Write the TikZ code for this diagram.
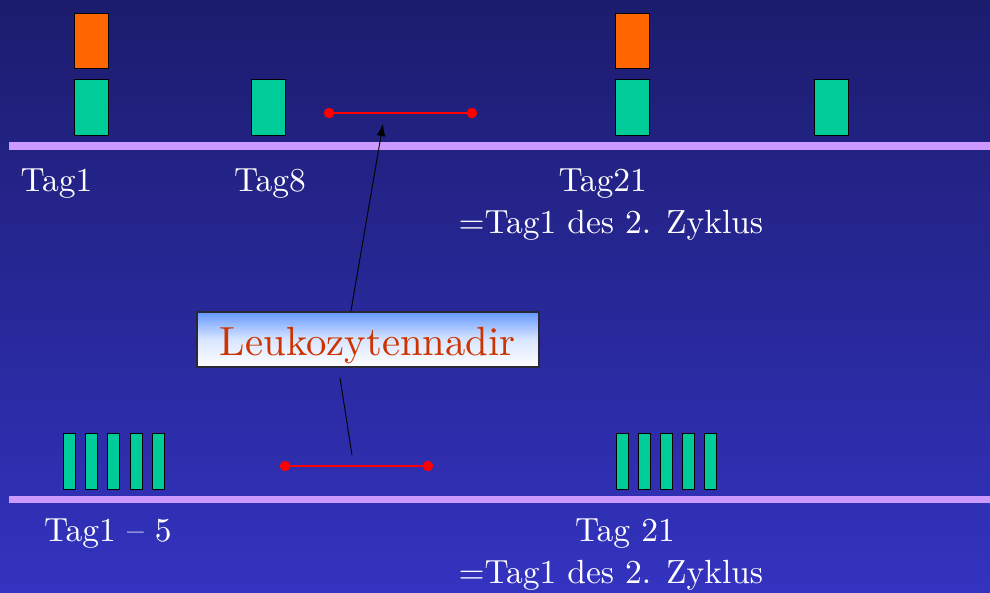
\documentclass[tikz,border=0pt]{standalone}
\usepackage{fontspec}
\setmainfont{lmroman10-regular.otf}
\usetikzlibrary{arrows.meta}

\definecolor{bgtop}{RGB}{28,28,110}
\definecolor{bgbot}{RGB}{51,51,192}
\definecolor{axis}{RGB}{204,153,255}
\definecolor{dosegreen}{RGB}{0,204,153}
\definecolor{doseorange}{RGB}{255,102,0}
\definecolor{nadirred}{RGB}{204,51,0}
\definecolor{boxblue}{RGB}{102,153,255}
\definecolor{boxframe}{RGB}{40,40,55}

\tikzset{
  timeline/.style={axis, line width=7.5pt},
  bigdose/.style={draw=black, line width=1pt, minimum width=34pt, minimum height=55.5pt, inner sep=0pt},
  greendose/.style={bigdose, fill=dosegreen},
  orangedose/.style={bigdose, fill=doseorange},
  smalldose/.style={draw=black, line width=1pt, fill=dosegreen, minimum width=12pt, minimum height=56pt, inner sep=0pt},
  reddot/.style={circle, fill=red, minimum size=10.5pt, inner sep=0pt},
  nadirline/.style={red, line width=2pt},
  daylabel/.style={text=white, anchor=base west, inner sep=0pt, font=\fontsize{33.5}{40}\selectfont},
  pointer/.style={black, line width=0.9pt},
}

\begin{document}
\begin{tikzpicture}[x=1pt, y=-1pt]
  % page and background
  \useasboundingbox (0,0) rectangle (990,592);
  \shade[top color=bgtop, bottom color=bgbot] (0,0) rectangle (990,592);

  % ---------- upper scheme ----------
  \coordinate (ua) at (9,146);
  \coordinate (ub) at (990,146);
  \draw[timeline] (ua) -- (ub);

  \node[orangedose] (o1)  at (91,41) {};
  \node[greendose]  (g1)  at (91,107.5) {};
  \node[greendose]  (g8)  at (268.3,107.5) {};
  \node[orangedose] (o21) at (632.5,41) {};
  \node[greendose]  (g21) at (632.5,107.5) {};
  \node[greendose]  (g28) at (831.5,107.5) {};

  \node[reddot] (ra) at (329,113) {};
  \node[reddot] (rb) at (472,113) {};
  \draw[nadirline] (ra.center) -- (rb.center);

  \node[daylabel] (t1)  at (20.5,191.7) {Tag1};
  \node[daylabel] (t8)  at (234,191.7) {Tag8};
  \node[daylabel] (t21) at (558.3,191.7) {Tag21};
  \node[daylabel] (z1)  at (458.3,233.3) {=Tag1 des 2. Zyklus};

  % ---------- lower scheme ----------
  \coordinate (la) at (9,499.5);
  \coordinate (lb) at (990,499.5);
  \draw[timeline] (la) -- (lb);

  \foreach \i in {0,...,4} {
    \node[smalldose] (s\i) at ({69.7+22.1*\i},461) {};
    \node[smalldose] (e\i) at ({622+22*\i},461) {};
  }

  \node[reddot] (qa) at (285,466) {};
  \node[reddot] (qb) at (428,466) {};
  \draw[nadirline] (qa.center) -- (qb.center);

  \node[daylabel] (b1)  at (44,541.7) {Tag1 -- 5};
  \node[daylabel] (b21) at (575,541.7) {Tag 21};
  \node[daylabel] (z2)  at (458.3,583.3) {=Tag1 des 2. Zyklus};

  % ---------- nadir label ----------
  \node[draw=boxframe, line width=1.5pt, top color=boxblue, bottom color=white,
        middle color=white!75!boxblue,
        minimum width=342pt, minimum height=55pt, inner sep=0pt,
        text height=31pt, text depth=0pt,
        text=nadirred, font=\fontsize{40.7}{48}\selectfont]
        (nadir) at (367.9,339.5) {Leukozytennadir};

  \coordinate (uptip) at (383,124);
  \draw[pointer, -{Latex[length=12pt, width=9pt]}] ([xshift=-17pt]nadir.north) -- (uptip);

  \coordinate (downa) at (340,378);
  \coordinate (downb) at (352,455);
  \draw[pointer] (downa) -- (downb);
\end{tikzpicture}
\end{document}
